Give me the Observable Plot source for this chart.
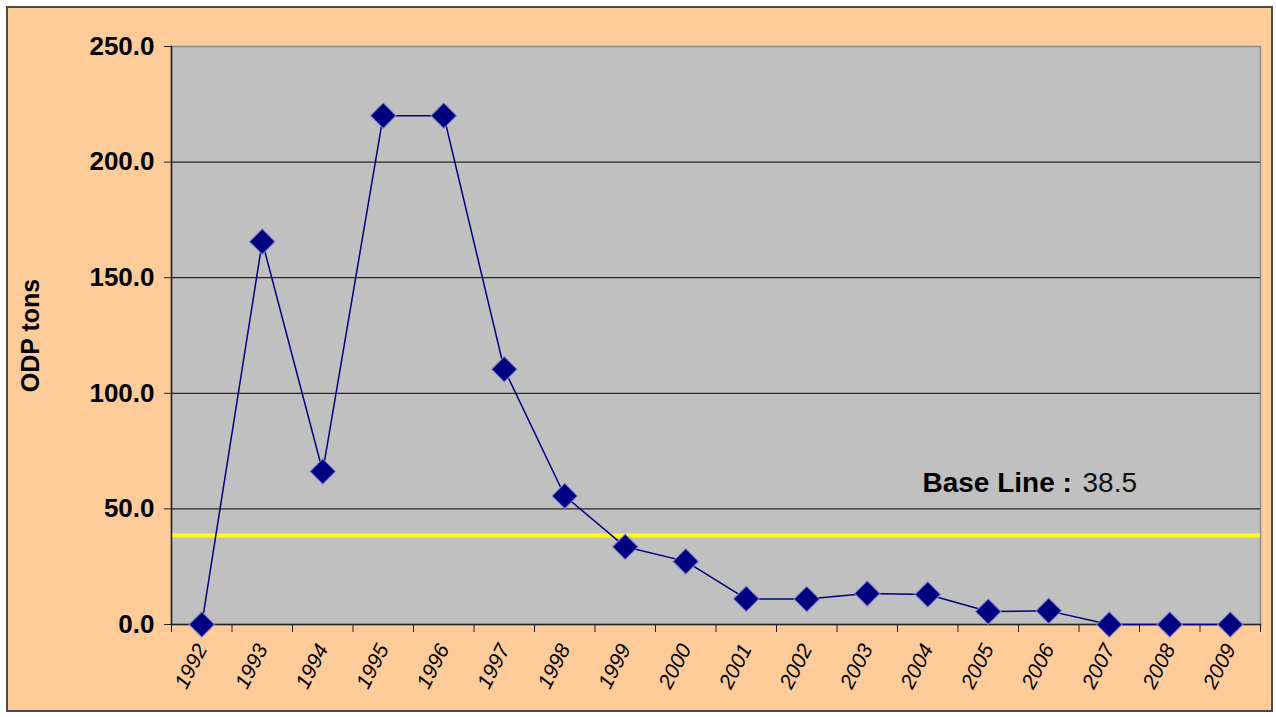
<!DOCTYPE html>
<html>
<head>
<meta charset="utf-8">
<script src="https://cdn.jsdelivr.net/npm/d3@7"></script>
<script src="https://cdn.jsdelivr.net/npm/@observablehq/plot@0.6"></script>
<style>
  html, body { margin: 0; padding: 0; background: #ffffff; }
  #chart { position: relative; width: 1276px; height: 717px; }
  #panel {
    position: absolute; left: 6px; top: 6px; width: 1267px; height: 706px;
    box-sizing: border-box; border: 2px solid #4a4a4a; background: #FFCC99;
  }
  #chart svg { position: absolute; left: 0; top: 0; }
</style>
</head>
<body>
<div id="chart"><div id="panel"></div></div>
<script>
// Annual consumption, ODP tons
const years = [1992, 1993, 1994, 1995, 1996, 1997, 1998, 1999, 2000,
               2001, 2002, 2003, 2004, 2005, 2006, 2007, 2008, 2009];
const odpTons = [0, 165.6, 66.2, 220.1, 220.1, 110.4, 55.6, 33.6, 27.3,
                 11.1, 11.0, 13.4, 13.0, 5.6, 5.9, 0, 0, 0];
const baseLine = 38.5;
const baseLineLabel = "Base Line :";
const yTicks = [0, 50, 100, 150, 200, 250];
const yTitle = "ODP tons";

const data = years.map((year, i) => ({year, value: odpTons[i]}));
// category boundaries, where the small x tick marks sit
const boundaries = years.map(y => y - 0.5).concat(years[years.length - 1] + 0.5);

const font = "'Liberation Sans', Arial, Helvetica, sans-serif";

const chart = Plot.plot({
  width: 1276,
  height: 717,
  marginLeft: 171,
  marginRight: 16,
  marginTop: 46,
  marginBottom: 93,
  style: {background: "transparent", fontFamily: font, color: "#000000"},
  x: {domain: [boundaries[0], boundaries[boundaries.length - 1]]},
  y: {domain: [yTicks[0], yTicks[yTicks.length - 1]]},
  marks: [
    Plot.frame({fill: "#C0C0C0", stroke: "#8a8a8a", strokeWidth: 1.5}),
    Plot.ruleY(yTicks.slice(1, -1), {stroke: "#000000", strokeWidth: 1}),
    Plot.ruleY([baseLine], {stroke: "#FFFF1A", strokeWidth: 4}),
    Plot.frame({anchor: "left", stroke: "#222222", strokeWidth: 1.5}),
    Plot.frame({anchor: "bottom", stroke: "#222222", strokeWidth: 1.5}),
    Plot.axisY({
      ticks: yTicks, tickFormat: d => d.toFixed(1), tickSize: 7, tickPadding: 10,
      fontSize: 26, fontWeight: "bold", label: null, stroke: "#222222"
    }),
    Plot.axisX({
      ticks: boundaries, tickSize: 8, tickFormat: () => "", label: null, stroke: "#222222"
    }),
    Plot.axisX({
      ticks: years, tickSize: 0, tickPadding: 21, tickRotate: -63,
      tickFormat: d => String(d), fontSize: 21, fontStyle: "italic", label: null
    }),
    Plot.text([yTitle], {
      text: d => d, frameAnchor: "left", textAnchor: "middle", dx: -141, rotate: -90,
      fontSize: 25, fontWeight: "bold"
    }),
    Plot.line(data, {x: "year", y: "value", stroke: "#000080", strokeWidth: 1.5}),
    Plot.dot(data, {
      x: "year", y: "value", symbol: "diamond2", r: 11.5,
      fill: "#000080", stroke: "#8c8cd0", strokeWidth: 1.2, strokeOpacity: 0.8
    }),
    Plot.text([baseLine], {
      y: d => d, text: () => baseLineLabel, frameAnchor: "right",
      textAnchor: "start", dx: -338, dy: -52, fontSize: 28, fontWeight: "bold"
    }),
    Plot.text([baseLine], {
      y: d => d, text: d => d.toFixed(1), frameAnchor: "right",
      textAnchor: "start", dx: -178, dy: -52, fontSize: 28, fill: "#111111"
    })
  ]
});

document.getElementById("chart").appendChild(chart);
</script>
</body>
</html>
